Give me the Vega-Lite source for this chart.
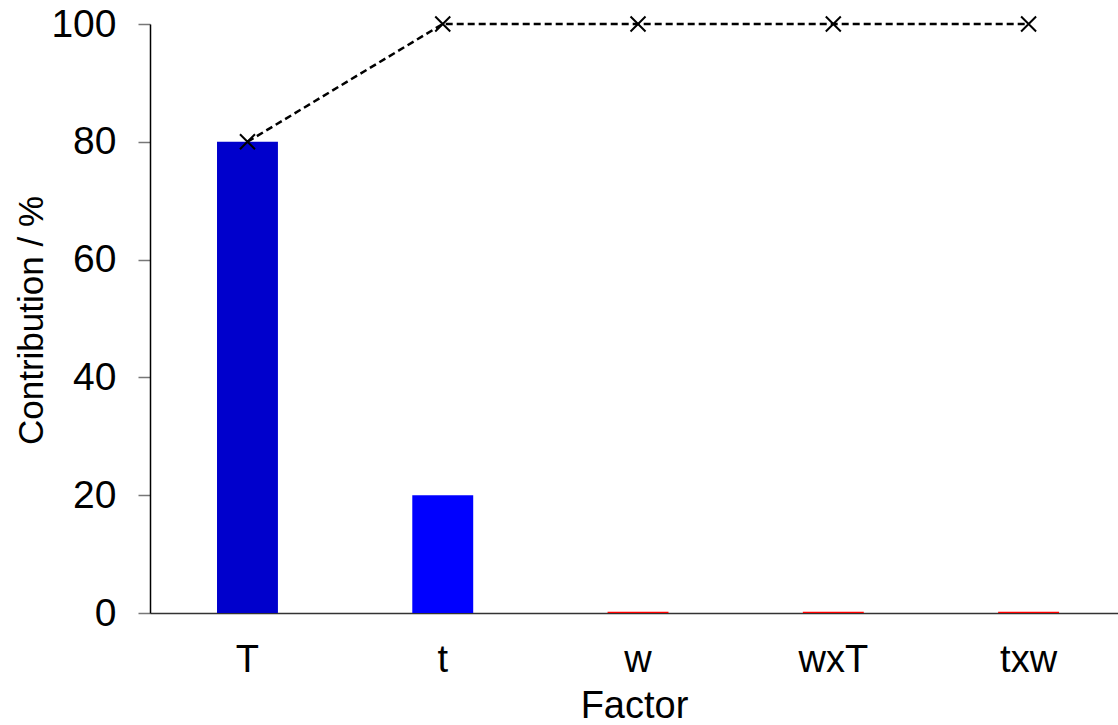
{
  "$schema": "https://vega.github.io/schema/vega-lite/v6.json",
  "width": 968,
  "height": 589,
  "autosize": {"type": "none"},
  "padding": {"left": 150, "top": 24, "right": 0, "bottom": 112},
  "background": "white",
  "config": {
    "view": {"stroke": null},
    "font": "Liberation Sans",
    "axis": {"grid": false, "labelFont": "Liberation Sans", "titleFont": "Liberation Sans", "labelColor": "black", "titleColor": "black", "titleFontWeight": "normal"}
  },
  "data": {
    "values": [
      {"factor": "T", "contribution": 80, "cumulative": 80},
      {"factor": "t", "contribution": 20, "cumulative": 100},
      {"factor": "w", "contribution": 0.2, "cumulative": 100},
      {"factor": "wxT", "contribution": 0.2, "cumulative": 100},
      {"factor": "txw", "contribution": 0.2, "cumulative": 100}
    ]
  },
  "encoding": {
    "x": {
      "field": "factor",
      "type": "nominal",
      "sort": null,
      "scale": {"paddingInner": 0.688, "paddingOuter": 0.3225, "align": 0.532},
      "axis": {
        "title": "Factor",
        "labelAngle": 0,
        "labelFontSize": 38,
        "titleFontSize": 38,
        "ticks": false,
        "tickSize": 0,
        "labelPadding": 58,
        "labelBaseline": "alphabetic",
        "domainColor": "#333333",
        "domainWidth": 1.5,
        "titleBaseline": "alphabetic",
        "titleY": 104
      }
    }
  },
  "layer": [
    {
      "mark": {"type": "bar"},
      "encoding": {
        "y": {
          "field": "contribution",
          "type": "quantitative",
          "scale": {"domain": [0, 100], "nice": false},
          "axis": {
            "title": "Contribution / %",
            "values": [0, 20, 40, 60, 80, 100],
            "labelFontSize": 39,
            "titleFontSize": 35,
            "tickSize": 12,
            "tickColor": "#777777",
            "tickWidth": 1.5,
            "labelPadding": 22,
            "domainColor": "black",
            "domainWidth": 1.5,
            "titleX": -119,
            "titleY": 296,
            "titleBaseline": "middle"
          }
        },
        "color": {
          "field": "factor",
          "type": "nominal",
          "scale": {
            "domain": ["T", "t", "w", "wxT", "txw"],
            "range": ["#0000CC", "#0000FF", "#FF0000", "#FF0000", "#FF0000"]
          },
          "legend": null
        }
      }
    },
    {
      "mark": {"type": "line", "color": "black", "strokeWidth": 2.5, "strokeDash": [7, 4]},
      "encoding": {
        "y": {"field": "cumulative", "type": "quantitative"}
      }
    },
    {
      "mark": {
        "type": "point",
        "shape": "M-1,-1L1,1M-1,1L1,-1",
        "filled": false,
        "color": "black",
        "strokeWidth": 2,
        "size": 225,
        "opacity": 1
      },
      "encoding": {
        "y": {"field": "cumulative", "type": "quantitative"}
      }
    }
  ]
}
